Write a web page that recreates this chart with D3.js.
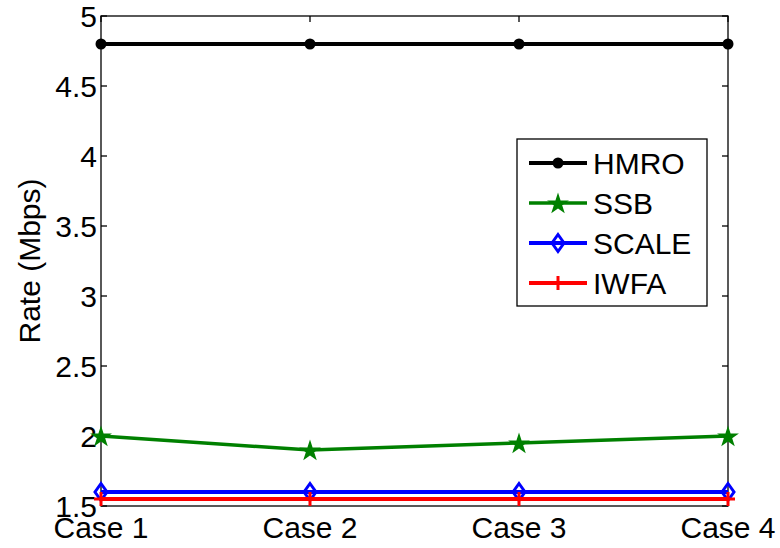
<!DOCTYPE html>
<html>
<head>
<meta charset="utf-8">
<script src="https://cdn.jsdelivr.net/npm/d3@7"></script>
<style>
  html, body { margin: 0; padding: 0; background: #fff; }
  svg text { font-family: "Liberation Sans", Arial, Helvetica, sans-serif; fill: #000; }
</style>
</head>
<body>
<svg id="chart" width="780" height="548"></svg>
<script>
// Categories and series values
const cases = ["Case 1", "Case 2", "Case 3", "Case 4"];
const hmro  = [4.8, 4.8, 4.8, 4.8];
const ssb   = [2.0, 1.9, 1.95, 2.0];
const scale = [1.6, 1.6, 1.6, 1.6];
const iwfa  = [1.55, 1.55, 1.55, 1.55];
const yTicks = [1.5, 2, 2.5, 3, 3.5, 4, 4.5, 5];
const seriesNames = ["HMRO", "SSB", "SCALE", "IWFA"];

const series = [
  { name: seriesNames[0], values: hmro,  color: "#000000", marker: "circle",  width: 4 },
  { name: seriesNames[1], values: ssb,   color: "#008000", marker: "star",    width: 3.5 },
  { name: seriesNames[2], values: scale, color: "#0000ff", marker: "diamond", width: 4 },
  { name: seriesNames[3], values: iwfa,  color: "#ff0000", marker: "plus",    width: 4 }
];

const svg = d3.select("#chart");
const plotL = 101, plotR = 728, plotT = 16, plotB = 506;
const fontSize = 30;

const x = d3.scalePoint().domain(cases).range([plotL, plotR]).padding(0);
const y = d3.scaleLinear().domain([1.5, 5]).range([plotB, plotT]);

// Axes box with inward ticks
const axisColor = "#000";
const tickLen = 6;

const gAxes = svg.append("g");
gAxes.append("rect")
  .attr("x", plotL).attr("y", plotT)
  .attr("width", plotR - plotL).attr("height", plotB - plotT)
  .attr("fill", "none").attr("stroke", axisColor).attr("stroke-width", 1.3);

// y ticks (left and right, pointing inward)
yTicks.forEach(v => {
  const yy = y(v);
  gAxes.append("line").attr("x1", plotL).attr("x2", plotL + tickLen)
    .attr("y1", yy).attr("y2", yy).attr("stroke", axisColor).attr("stroke-width", 1.3);
  gAxes.append("line").attr("x1", plotR).attr("x2", plotR - tickLen)
    .attr("y1", yy).attr("y2", yy).attr("stroke", axisColor).attr("stroke-width", 1.3);
  gAxes.append("text")
    .attr("x", plotL - 4).attr("y", yy + 11)
    .attr("text-anchor", "end")
    .attr("font-size", fontSize)
    .text(d3.format("~g")(v));
});

// x ticks (bottom and top, pointing inward)
cases.forEach(c => {
  const xx = x(c);
  gAxes.append("line").attr("x1", xx).attr("x2", xx)
    .attr("y1", plotB).attr("y2", plotB - tickLen).attr("stroke", axisColor).attr("stroke-width", 1.3);
  gAxes.append("line").attr("x1", xx).attr("x2", xx)
    .attr("y1", plotT).attr("y2", plotT + tickLen).attr("stroke", axisColor).attr("stroke-width", 1.3);
  gAxes.append("text")
    .attr("x", xx).attr("y", 538)
    .attr("text-anchor", "middle")
    .attr("font-size", fontSize)
    .text(c);
});

// y-axis title
svg.append("text")
  .attr("transform", `translate(40, ${(plotT + plotB) / 2}) rotate(-90)`)
  .attr("text-anchor", "middle")
  .attr("font-size", fontSize)
  .text("Rate (Mbps)");

// Marker drawing
function starPath(r) {
  const inner = r * 0.382;
  const pts = [];
  for (let i = 0; i < 10; i++) {
    const rr = i % 2 === 0 ? r : inner;
    const a = -Math.PI / 2 + i * Math.PI / 5;
    pts.push([rr * Math.cos(a), rr * Math.sin(a)]);
  }
  return "M" + pts.map(p => p.join(",")).join("L") + "Z";
}

function drawMarker(g, type, cx, cy, color) {
  if (type === "circle") {
    g.append("circle").attr("cx", cx).attr("cy", cy).attr("r", 5.5).attr("fill", color);
  } else if (type === "star") {
    g.append("path").attr("d", starPath(11.5))
      .attr("transform", `translate(${cx},${cy + 1})`)
      .attr("fill", color);
  } else if (type === "diamond") {
    g.append("path").attr("d", "M0,-8.5L6,0L0,8.5L-6,0Z")
      .attr("transform", `translate(${cx},${cy})`)
      .attr("fill", "none").attr("stroke", color).attr("stroke-width", 3);
  } else if (type === "plus") {
    g.append("path").attr("d", "M-7,0H7M0,-7V7")
      .attr("transform", `translate(${cx},${cy})`)
      .attr("fill", "none").attr("stroke", color).attr("stroke-width", 3);
  }
}

// Series lines and markers
const line = d3.line().x((d, i) => x(cases[i])).y(d => y(d));
series.forEach(s => {
  const g = svg.append("g");
  g.append("path").datum(s.values)
    .attr("d", line)
    .attr("fill", "none")
    .attr("stroke", s.color)
    .attr("stroke-width", s.width)
    .attr("stroke-linejoin", "round");
  s.values.forEach((v, i) => drawMarker(g, s.marker, x(cases[i]), y(v), s.color));
});

// Legend
const lg = svg.append("g");
const lgX = 517, lgY = 139, lgW = 190, lgH = 167;
lg.append("rect").attr("x", lgX).attr("y", lgY).attr("width", lgW).attr("height", lgH)
  .attr("fill", "#fff").attr("stroke", "#000").attr("stroke-width", 1.3);
const rowY = [163, 203, 243, 283];
series.forEach((s, i) => {
  const cy = rowY[i];
  lg.append("line").attr("x1", 529).attr("x2", 587).attr("y1", cy).attr("y2", cy)
    .attr("stroke", s.color).attr("stroke-width", s.width);
  drawMarker(lg, s.marker, 558, cy, s.color);
  lg.append("text").attr("x", 593).attr("y", cy + 11)
    .attr("font-size", fontSize)
    .text(s.name);
});
</script>
</body>
</html>
